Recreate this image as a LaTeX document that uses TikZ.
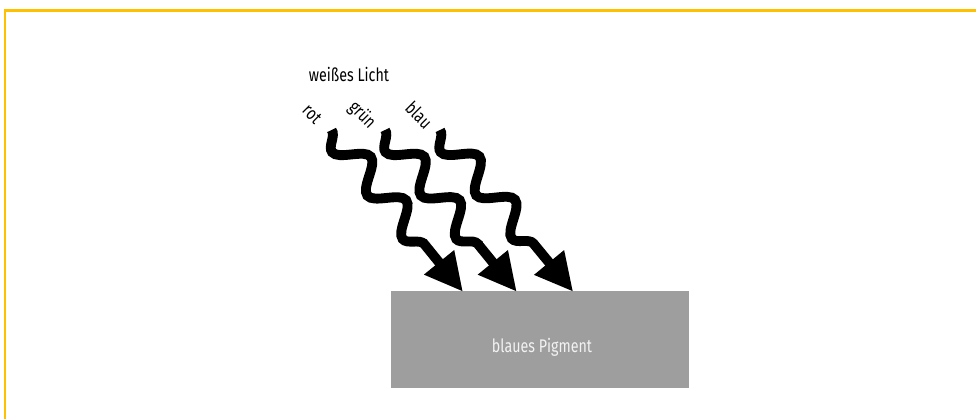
\documentclass[tikz,border=0pt]{standalone}
\usepackage{fontspec}
\setmainfont{Fira Sans}[FakeStretch=0.78]
\usepackage{xcolor}
\usepackage{tikz}
\usetikzlibrary{arrows.meta, positioning, decorations.pathmorphing}
\definecolor{myamber}{RGB}{255,192,0}
\definecolor{mygray}{RGB}{157,158,157}
\definecolor{mylight}{RGB}{242,242,242}
\tikzset{
  frame/.style={line width=1.6pt, color=myamber},
  pigment/.style={rectangle, fill=mygray, minimum width=7.45cm,
    minimum height=2.425cm, inner sep=0pt},
  pigmenttext/.style={font=\fontsize{13}{15}\selectfont, color=mylight},
  lichttext/.style={font=\fontsize{13}{15}\selectfont, color=black},
  farbtext/.style={font=\fontsize{13}{15}\selectfont, rotate=-45, inner sep=1pt},
  wave/.style={line width=7pt, color=black, decorate,
    decoration={snake, amplitude=0.34cm, segment length=1.4cm,
      post length=1.0cm, mirror},
    -{Triangle[length=0.95cm, width=0.9cm]}}
}
\begin{document}
\begin{tikzpicture}
  \useasboundingbox (0,0) rectangle (24.4,10.475);
  % Frame (top and left edge only)
  \draw[frame] (0.13,0) |- (24.4,10.21);

  % Pigment block
  \node[pigment] (pigment) at (13.5,1.99) {};
  \node[pigmenttext] (pigmenttext) at ([xshift=0.05cm, yshift=-0.2cm]pigment.center) {blaues Pigment};

  % Light rays
  \coordinate (rotstart) at (8.29,7.225);
  \coordinate (rotend) at (11.575,3.18);
  \coordinate (gruenstart) at (9.625,7.225);
  \coordinate (gruenend) at (12.92,3.18);
  \coordinate (blaustart) at (11.0,7.225);
  \coordinate (blauend) at (14.33,3.18);
  \draw[wave] (rotstart) -- (rotend);
  \draw[wave] (gruenstart) -- (gruenend);
  \draw[wave] (blaustart) -- (blauend);

  % Labels
  \node[lichttext] (licht) at (8.725,8.625) {weißes Licht};
  \node[farbtext] (rot) at (7.8,7.625) {rot};
  \node[farbtext] (gruen) at (9.05,7.6) {grün};
  \node[farbtext] (blau) at (10.475,7.6) {blau};
\end{tikzpicture}
\end{document}
